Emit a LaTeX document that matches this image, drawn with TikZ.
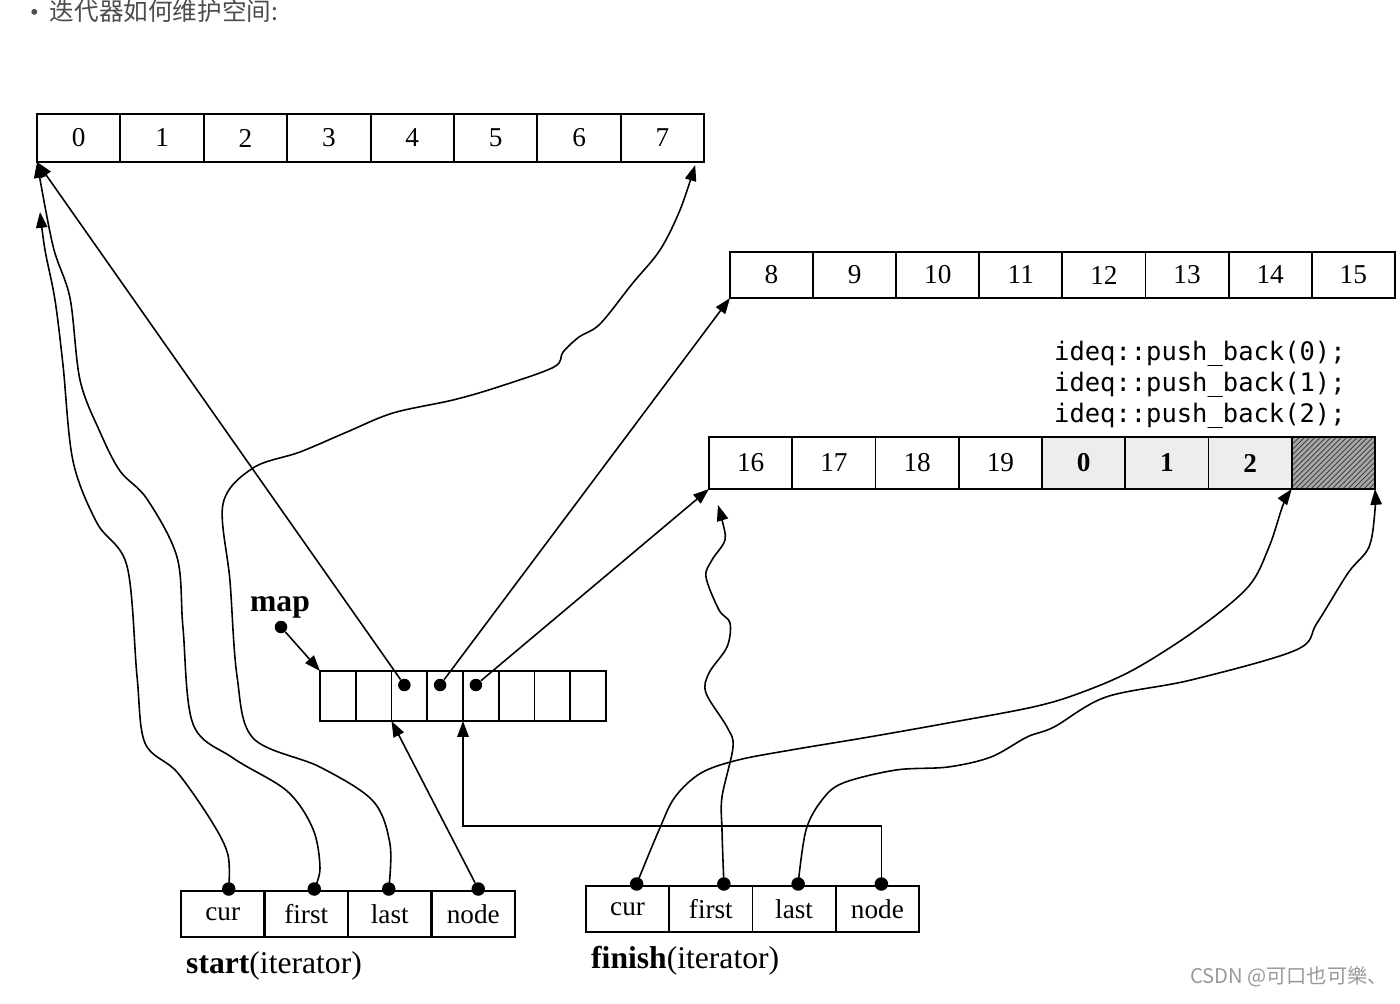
\documentclass[tikz,border=0pt]{standalone}
\usepackage{fontspec}
\setmainfont{Liberation Serif}
\newfontfamily\cjkfont{Noto Sans CJK SC}
\newfontfamily\codefont{DejaVu Sans Mono}
\usetikzlibrary{arrows.meta,positioning,calc,patterns}

\tikzset{
  cell/.style={draw, line width=1.1pt, inner sep=0pt, outer sep=0pt,
    font=\fontsize{15.5}{18}\selectfont},
  mapcell/.style={cell, minimum width=0.715cm, minimum height=1cm},
  itcell/.style={cell, minimum width=1.668cm, minimum height=0.92cm,
    font=\fontsize{15.5}{18}\selectfont},
  dot/.style={circle, fill=black, inner sep=0pt, minimum size=0.27cm},
  ptr/.style={line width=0.9pt, -{Triangle[length=9pt,width=6.5pt]}},
  lbl/.style={anchor=west, font=\fontsize{18}{20}\selectfont},
}

\begin{document}
\begin{tikzpicture}[x=0.02cm, y=-0.02cm]
    \useasboundingbox (0,0) rectangle (1400,1004);

    % heading and watermark
    \node[anchor=west, text=black!70, font=\cjkfont\fontsize{14}{16}\selectfont] (title) at (24,11) {{\normalfont\textbullet}\hspace{0.45em}迭代器如何维护空间:};
    \node[anchor=east, text=black!40, font=\cjkfont\fontsize{11.5}{13}\selectfont] (wm) at (1394,977) {CSDN @可口也可樂、};

    % buffer 0..7
    \foreach \n [count=\i from 0] in {0,...,7}
        \node[cell, minimum width=1.668cm, minimum height=0.96cm] (a\i) at ({37+83.4*(\i+0.5)},138) {\n};

    % buffer 8..15
    \foreach \n [count=\i from 0] in {8,...,15}
        \node[cell, minimum width=1.662cm, minimum height=0.92cm] (b\i) at ({730+83.1*(\i+0.5)},275) {\n};

    % buffer 16..19 + pushed elements
    \foreach \n [count=\i from 0] in {16,17,18,19}
        \node[cell, minimum width=1.665cm, minimum height=1.04cm] (c\i) at ({709+83.25*(\i+0.5)},463) {\n};
    \foreach \n [count=\i from 4] in {0,1,2}
        \node[cell, fill=black!7, minimum width=1.665cm, minimum height=1.04cm] (c\i) at ({709+83.25*(\i+0.5)},463) {\textbf{\n}};
    \node[cell, preaction={fill=black!35}, pattern=north east lines, pattern color=black!80,
        minimum width=1.665cm, minimum height=1.04cm] (c7) at ({709+83.25*7.5},463) {};

    \node[anchor=west, align=left, font=\codefont\fontsize{14.5}{17.6}\selectfont] (ops) at (1048,385)
        {ideq::push\_back(0);\\ideq::push\_back(1);\\ideq::push\_back(2);};

    % map
    \foreach \i in {0,...,7}
        \node[mapcell] (m\i) at ({320+35.75*(\i+0.5)},696) {};
    \foreach \i in {2,3,4}
        \node[dot, minimum size=0.25cm] (md\i) at ($(m\i.center)+(-5,-11)$) {};
    \node[font=\bfseries\fontsize{18}{20}\selectfont] (maplbl) at (280,607) {map};
    \node[dot, minimum size=0.25cm] (mapdot) at (281,627) {};

    % start iterator
    \foreach \t [count=\i from 0] in {cur,first,last,node}
        \node[itcell] (s\i) at ({181+83.5*(\i+0.5)},914) {\t};
    \foreach \i/\dx in {0/6,1/8,2/-1,3/5}
        \node[dot] (sd\i) at ($(s\i.north)+(\dx,-2)$) {};
    \node[lbl] (slbl) at (180,966) {\textbf{start}(iterator)};

    % finish iterator
    \foreach \t [count=\i from 0] in {cur,first,last,node}
        \node[itcell, minimum width=1.665cm] (f\i) at ({586+83.25*(\i+0.5)},909) {\t};
    \foreach \i/\dx in {0/9,1/13,2/4,3/4}
        \node[dot] (fd\i) at ($(f\i.north)+(\dx,-2)$) {};
    \node[lbl] (flbl) at (585,961) {\textbf{finish}(iterator)};

    % arrow ends
    \coordinate (a0cur) at ($(a0.south west)+(3,50)$);
    \coordinate (a7end) at ($(a7.south east)+(-9,3)$);
    \coordinate (c0first) at ($(c0.south west)+(9,16)$);
    \path (m4.south west) ++(0,105) coordinate (fbend);

    % map pointers
    \draw[ptr] (mapdot) -- (m0.north west);
    \draw[ptr] (md2) -- (a0.south west);
    \draw[ptr] (md3) -- (b0.south west);
    \draw[ptr] (md4) -- (c0.south west);

    % start
    \draw[ptr] plot[smooth, tension=0.55] coordinates {(sd0.center) (228,855) (212,822) (177,772) (145,743) (137,676) (127,566) (97,523) (73,461) (63,365) (55,300) (45,250) (a0cur)};
    \draw[ptr] plot[smooth, tension=0.55] coordinates {(sd1.center) (320,868) (313,829) (287,791) (233,758) (193,724) (183,628) (177,557) (147,499) (120,471) (100,432) (80,380) (70,298) (53,246) (a0.south west)};
    \draw[ptr] plot[smooth, tension=0.55] coordinates {(sd2.center) (390,844) (373,801) (320,767) (253,738) (237,676) (230,581) (223,504) (253,468) (300,452) (347,432) (393,413) (453,400) (498,387) (554,367) (563,352) (579,337) (600,324) (632,284) (660,250) (680,210) (a7end)};
    \draw[ptr] (sd3) -- (m2.south west);

    % finish
    \draw[ptr] plot[smooth, tension=0.55] coordinates {(fd0.center) (659,830) (675,797) (701,773) (738,760) (791,750) (869,737) (948,723) (1033,707) (1080,693) (1133,670) (1196,630) (1248,587) (1269,547) (1283,505) (c7.south west)};
    \draw[ptr] plot[smooth, tension=0.55] coordinates {(fd1.center) (722,830) (722,797) (733,747) (727,727) (706,693) (709,673) (727,647) (730,623) (719,610) (706,577) (712,560) (725,540) (722,520) (c0first)};
    \draw[ptr] plot[smooth, tension=0.55] coordinates {(fd2.center) (806,830) (822,800) (843,783) (896,770) (948,767) (991,757) (1027,737) (1054,727) (1106,697) (1191,680) (1296,650) (1317,623) (1348,573) (1369,547) (1375,510) (c7.south east)};
    \draw[ptr] (fd3.center) |- (fbend) -- (m4.south west);

\end{tikzpicture}
\end{document}
